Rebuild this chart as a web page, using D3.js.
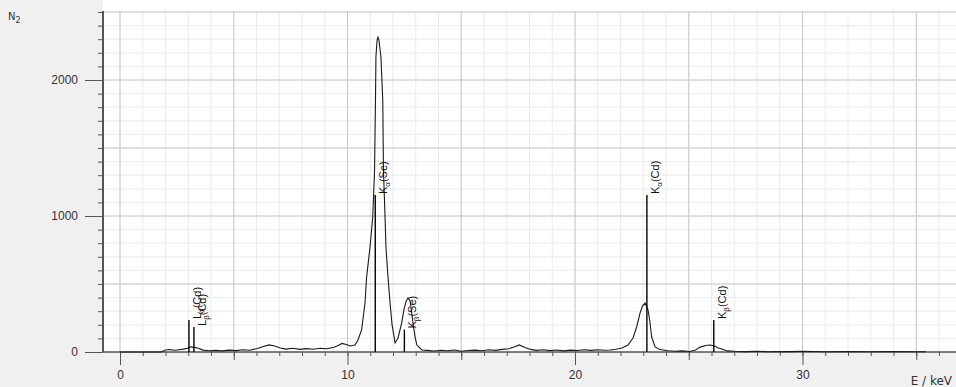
<!DOCTYPE html>
<html>
<head>
<meta charset="utf-8">
<script src="https://cdn.jsdelivr.net/npm/d3@7"></script>
<style>
  body { margin: 0; background: #f0f0f0; }
  svg { display: block; font-family: "DejaVu Sans", sans-serif; }
  .ticklabel { font-size: 12px; fill: #333; }
  .linelabel { font-family: "Liberation Sans", Arial, sans-serif; font-size: 11px; fill: #111; }
</style>
</head>
<body>
<div id="chart"></div>
<script>
// spectrum (keV / counts)
const energy = [0, 1.8, 1.9, 2.0, 2.2, 2.4, 2.6, 2.8, 3.0, 3.1, 3.25, 3.45, 3.65, 3.9, 4.2, 4.5, 4.8, 5.1, 5.4, 5.7,
  6.0, 6.3, 6.55, 6.8, 7.05, 7.3, 7.6, 7.9, 8.2, 8.5, 8.8, 9.1, 9.4, 9.6, 9.75, 9.95, 10.11, 10.33, 10.46, 10.62,
  10.77, 10.84, 10.99, 11.11, 11.19, 11.23, 11.25, 11.30, 11.34, 11.38, 11.47, 11.55, 11.58, 11.65, 11.69, 11.78,
  11.87, 11.96, 12.09, 12.22, 12.38, 12.48, 12.57, 12.66, 12.75, 12.88, 12.97, 13.05, 13.27, 13.5, 13.8, 14.1,
  14.4, 14.7, 15.0, 15.3, 15.6, 15.9, 16.2, 16.5, 16.8, 17.1, 17.35, 17.55, 17.8, 18.05, 18.3, 18.6, 18.9, 19.2,
  19.5, 19.8, 20.1, 20.4, 20.7, 21.0, 21.3, 21.54, 21.8, 22.07, 22.33, 22.55, 22.71, 22.86, 22.97, 23.08, 23.21,
  23.30, 23.37, 23.52, 23.7, 23.87, 24.1, 24.4, 24.7, 25.05, 25.3, 25.5, 25.75, 25.93, 26.1, 26.3, 26.46, 26.7,
  27.0, 27.5, 28, 28.5, 29, 29.5, 30, 31, 32, 33, 34, 35, 35.43];
const counts = [0, 0, 8, 15, 18, 13, 17, 21, 30, 38, 34, 27, 14, 9, 12, 8, 14, 10, 16, 13,
  24, 40, 52, 44, 30, 21, 27, 19, 25, 20, 27, 24, 35, 48, 63, 55, 44, 51, 88, 162,
  360, 551, 772, 993, 1338, 1853, 2169, 2294, 2316, 2294, 2169, 1853, 1338, 993, 772, 551,
  360, 199, 66, 103, 213, 309, 372, 397, 376, 213, 110, 51, 15, 12, 7, 13,
  9, 15, 6, 11, 14, 9, 16, 12, 19, 24, 38, 52, 33, 19, 12, 16, 10, 15,
  8, 14, 11, 17, 12, 16, 13, 15, 20, 29, 51, 103, 184, 287, 340, 360, 309,
  213, 110, 37, 20, 15, 9, 6, 8, 4, 15, 36, 48, 51, 46, 30, 22, 8,
  5, 3, 6, 2, 4, 3, 5, 2, 4, 2, 3, 2, 2];

// element line markers
const lineShell = ["L", "L", "K", "K", "K", "K"];
const lineGreek = ["α", "β", "α", "β", "α", "β"];
const lineElement = ["Cd", "Cd", "Se", "Se", "Cd", "Cd"];
const lineEnergy = [3.03, 3.25, 11.22, 12.5, 23.16, 26.1];
const lineHeight = [235, 184, 1154, 165, 1154, 235];

const xLabelTicks = [0, 10, 20, 30];
const xMidTicks = [5, 15, 25, 35];
const yLabelTicks = [0, 1000, 2000];
const yMajorGrid = [500, 1000, 1500, 2000, 2500];

const W = 956, H = 387;
const plot = { left: 103, right: 956, top: 12, bottom: 352 };

const svg = d3.select('#chart').append('svg')
  .attr('width', W)
  .attr('height', H);

svg.append('rect').attr('width', W).attr('height', H).attr('fill', '#f0f0f0');
svg.append('rect')
  .attr('x', plot.left).attr('y', 0)
  .attr('width', plot.right - plot.left).attr('height', plot.bottom)
  .attr('fill', '#fff');

const x = d3.scaleLinear().domain([0, 30]).range([120, 802.5]);
const y = d3.scaleLinear().domain([0, 2500]).range([plot.bottom, plot.top]);

const xMinor = d3.range(0, 37);
const yMinor = d3.range(100, 2600, 100);

// grid, minor first then major
const grid = svg.append('g');
grid.selectAll('.vminor').data(xMinor).enter().append('line')
  .attr('x1', d => x(d)).attr('x2', d => x(d))
  .attr('y1', plot.top).attr('y2', plot.bottom)
  .attr('stroke', '#ebebeb');
grid.selectAll('.hminor').data(yMinor).enter().append('line')
  .attr('x1', plot.left).attr('x2', plot.right)
  .attr('y1', d => y(d)).attr('y2', d => y(d))
  .attr('stroke', '#ebebeb');
grid.selectAll('.vmajor').data(xLabelTicks.concat(xMidTicks)).enter().append('line')
  .attr('x1', d => x(d)).attr('x2', d => x(d))
  .attr('y1', plot.top).attr('y2', plot.bottom)
  .attr('stroke', '#c8c8c8');
grid.selectAll('.hmajor').data(yMajorGrid).enter().append('line')
  .attr('x1', plot.left).attr('x2', plot.right)
  .attr('y1', d => y(d)).attr('y2', d => y(d))
  .attr('stroke', '#c8c8c8');

// axes
function tickAxis(axis, values, size, labels) {
  const g = svg.append('g');
  g.call(axis.tickValues(values).tickSize(size).tickSizeOuter(0)
    .tickFormat(labels ? d3.format('d') : ''));
  g.select('.domain').remove();
  g.selectAll('.tick line').attr('stroke', '#555');
  g.selectAll('.tick text').attr('class', 'ticklabel').attr('font-family', null).attr('font-size', null);
  return g;
}
tickAxis(d3.axisBottom(x), xMinor, 4, false).attr('transform', `translate(0,${plot.bottom})`);
tickAxis(d3.axisBottom(x), xMidTicks, 8, false).attr('transform', `translate(0,${plot.bottom})`);
tickAxis(d3.axisBottom(x), xLabelTicks, 13, true).attr('transform', `translate(0,${plot.bottom})`)
  .selectAll('.tick text').attr('dy', '0.9em');
tickAxis(d3.axisLeft(y), d3.range(0, 2600, 100), 5, false).attr('transform', `translate(${plot.left},0)`);
tickAxis(d3.axisLeft(y), yLabelTicks, 18, true).attr('transform', `translate(${plot.left},0)`)
  .selectAll('.tick text').attr('dx', '-4');

svg.append('line')
  .attr('x1', plot.left).attr('x2', plot.right)
  .attr('y1', plot.bottom).attr('y2', plot.bottom)
  .attr('stroke', '#555').attr('stroke-width', 1.5);
svg.append('line')
  .attr('x1', plot.left).attr('x2', plot.left)
  .attr('y1', plot.top - 1).attr('y2', plot.bottom)
  .attr('stroke', '#555').attr('stroke-width', 2);

// spectrum trace
const line = d3.line()
  .x((d, i) => x(energy[i]))
  .y(d => y(d));
svg.append('path')
  .datum(counts)
  .attr('d', line)
  .attr('fill', 'none')
  .attr('stroke', '#1a1a1a')
  .attr('stroke-width', 1.1);

// markers and rotated labels
const markers = svg.append('g');
lineEnergy.forEach((e, i) => {
  markers.append('line')
    .attr('x1', x(e)).attr('x2', x(e))
    .attr('y1', y(0)).attr('y2', y(lineHeight[i]))
    .attr('stroke', '#000').attr('stroke-width', 1.4);
  const t = markers.append('text')
    .attr('class', 'linelabel')
    .attr('transform', `translate(${x(e) + 12},${y(lineHeight[i]) - 1}) rotate(-90)`);
  t.append('tspan').text(lineShell[i]);
  t.append('tspan').attr('font-size', '8px').attr('dy', 3).text(lineGreek[i]);
  t.append('tspan').attr('dy', -3).text('(' + lineElement[i] + ')');
});

// axis titles
const yt = svg.append('text').attr('x', 8).attr('y', 20)
  .attr('font-size', 10).attr('fill', '#333');
yt.append('tspan').text('N');
yt.append('tspan').attr('font-size', 8).attr('dy', 3).text('2');

svg.append('text').attr('x', 952).attr('y', 385)
  .attr('text-anchor', 'end')
  .attr('font-size', 12).attr('fill', '#333')
  .text('E / keV');
</script>
</body>
</html>
